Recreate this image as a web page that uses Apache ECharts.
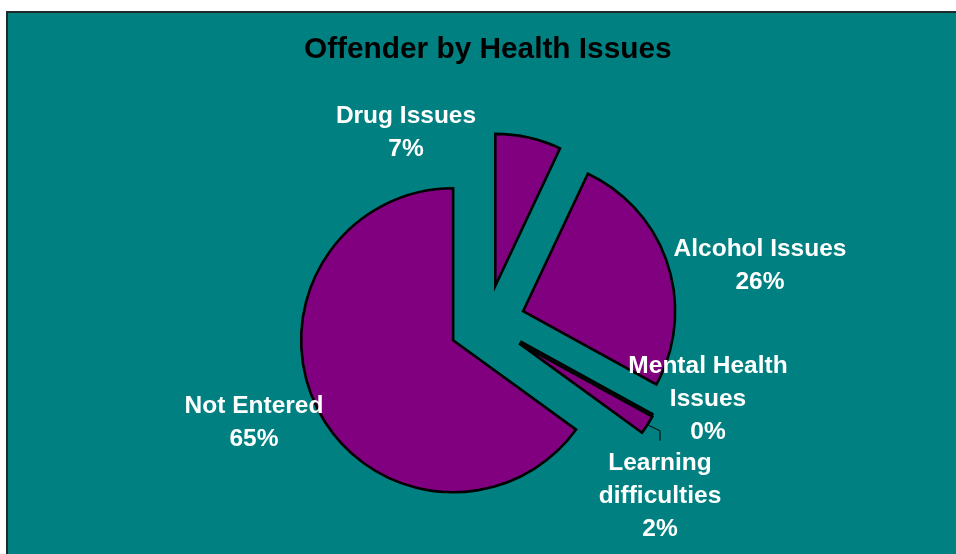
<!DOCTYPE html>
<html>
<head>
<meta charset="utf-8">
<script src="https://cdn.jsdelivr.net/npm/echarts@6/dist/echarts.min.js"></script>
<style>
  html, body { margin: 0; padding: 0; background: #ffffff; }
  #chart { width: 956px; height: 554px; }
</style>
</head>
<body>
<div id="chart"></div>
<script>
// Offender records grouped by recorded health issue (share of total, %)
const categories = ['Drug Issues', 'Alcohol Issues', 'Mental Health Issues', 'Learning difficulties', 'Not Entered'];
const labelNames = ['Drug Issues', 'Alcohol Issues', 'Mental Health\nIssues', 'Learning\ndifficulties', 'Not Entered'];
const shares = [7, 26, 0, 2, 65];

const TEAL = '#008080';
const PURPLE = '#800080';
const FONT = 'Liberation Sans, Arial, sans-serif';

// Pie geometry
const PIE_CENTER = [487, 323];
const PIE_RADIUS = 152;
const EXPLODE = 38;

// Where each slice's caption sits (centre of the text block)
const labelAnchors = [
  [406, 133],
  [760, 266],
  [708, 399],
  [660, 496],
  [254, 423]
];

const total = shares.reduce((a, b) => a + b, 0);

// Mid-angle (clockwise from 12 o'clock, radians) of each slice
const midAngles = [];
let acc = 0;
shares.forEach(v => {
  const a0 = acc / total * 2 * Math.PI;
  acc += v;
  const a1 = acc / total * 2 * Math.PI;
  midAngles.push((a0 + a1) / 2);
});

// Point on the outer edge of an exploded slice, along its mid-angle
function sliceTip(i) {
  const a = midAngles[i];
  const d = EXPLODE + PIE_RADIUS;
  return [PIE_CENTER[0] + d * Math.sin(a), PIE_CENTER[1] - d * Math.cos(a)];
}

const captions = categories.map((name, i) => ({
  type: 'text',
  z: 100,
  silent: true,
  x: labelAnchors[i][0],
  y: labelAnchors[i][1],
  style: {
    text: labelNames[i] + '\n' + Math.round(shares[i] / total * 100) + '%',
    fill: '#ffffff',
    font: 'bold 24.5px ' + FONT,
    lineHeight: 33,
    align: 'center',
    verticalAlign: 'middle'
  }
}));

// Leader line from the learning-difficulties slice down to its caption
const tip = sliceTip(3);
const leader = {
  type: 'polyline',
  z: 90,
  silent: true,
  shape: {
    points: [
      tip,
      [labelAnchors[3][0], tip[1] + 6],
      [labelAnchors[3][0], tip[1] + 16]
    ]
  },
  style: { stroke: '#000000', lineWidth: 1, fill: null }
};

const chart = echarts.init(document.getElementById('chart'), null, { renderer: 'canvas' });

chart.setOption({
  animation: false,
  backgroundColor: '#ffffff',
  graphic: [{
    type: 'rect',
    silent: true,
    z: -10,
    shape: { x: 7, y: 12, width: 980, height: 580 },
    style: { fill: TEAL, stroke: '#1f2a2a', lineWidth: 2 }
  }, leader].concat(captions),
  title: {
    text: 'Offender by Health Issues',
    left: 304,
    top: 35,
    padding: 0,
    textStyle: {
      fontFamily: FONT,
      fontSize: 29.8,
      fontWeight: 'bold',
      color: '#000000'
    }
  },
  series: [{
    type: 'pie',
    name: 'Offender by Health Issues',
    center: PIE_CENTER,
    radius: PIE_RADIUS,
    startAngle: 90,
    clockwise: true,
    selectedMode: 'multiple',
    selectedOffset: EXPLODE,
    avoidLabelOverlap: false,
    emphasis: { disabled: true },
    itemStyle: {
      color: PURPLE,
      borderColor: '#000000',
      borderWidth: 2.6,
      borderJoin: 'miter'
    },
    label: { show: false },
    labelLine: { show: false },
    data: categories.map((name, i) => ({ name: name, value: shares[i], selected: true }))
  }]
});
</script>
</body>
</html>
